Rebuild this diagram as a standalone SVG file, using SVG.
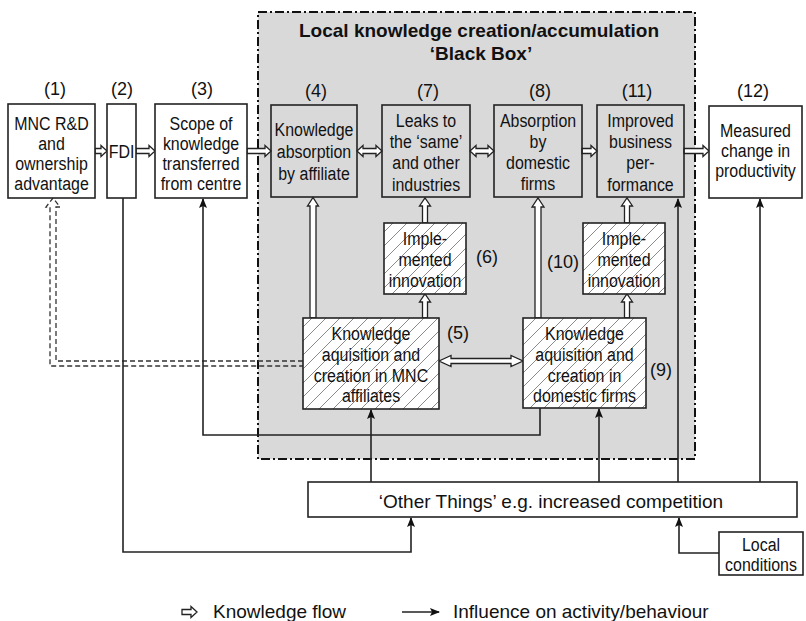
<svg xmlns="http://www.w3.org/2000/svg" width="806" height="621" viewBox="0 0 806 621">
<style>
.bx{fill:#fff;stroke:#222;stroke-width:1.6}
.gb{fill:none;stroke:#222;stroke-width:1.6}
.hb{fill:url(#hatch);stroke:#222;stroke-width:1.6}
.t{font-family:"Liberation Sans",Arial,sans-serif;font-size:19px;fill:#111;text-anchor:middle}
.l{font-family:"Liberation Sans",Arial,sans-serif;font-size:18px;fill:#111;text-anchor:middle}
.a{font-family:"Liberation Sans",Arial,sans-serif;font-size:19px;fill:#111}
.ti{font-family:"Liberation Sans",Arial,sans-serif;font-size:19px;font-weight:bold;fill:#111;text-anchor:middle}
.ho{fill:#fff;stroke:#222;stroke-width:1.3;stroke-linejoin:miter}
.ln{fill:none;stroke:#222;stroke-width:1.6}
.ds{fill:none;stroke:#333;stroke-width:1.3;stroke-dasharray:5 3}
</style>
<defs>
<pattern id="hatch" patternUnits="userSpaceOnUse" width="14" height="14">
<rect width="14" height="14" fill="#fff"/>
<path d="M0 14L14 0M-3.5 3.5L3.5 -3.5M10.5 17.5L17.5 10.5" stroke="#8a8a8a" stroke-width="1"/>
</pattern>
<marker id="ah" markerWidth="10" markerHeight="10" viewBox="0 0 10 10" refX="9" refY="5" orient="auto" markerUnits="userSpaceOnUse">
<path d="M0 1L10 5L0 9L2 5Z" fill="#111"/>
</marker>
</defs>
<rect width="806" height="621" fill="#fff"/>
<g id="blackbox">
<rect x="258" y="12" width="437" height="447" fill="#d9d9d9" stroke="#111" stroke-width="2" stroke-dasharray="9 3 2 3"/>
<text class="ti" x="479" y="37">Local knowledge creation/accumulation</text>
<text class="ti" x="481" y="60">‘Black Box’</text>
</g>
<g id="connectors">
<path class="ho" d="M95 148.5H101V145.5L107 151L101 156.5V153.5H95Z"/>
<path class="ho" d="M136 148.5H149V145.5L155 151L149 156.5V153.5H136Z"/>
<path class="ho" d="M247 148.5H265V145.5L271 151L265 156.5V153.5H247Z"/>
<path class="ho" d="M357 151L363 145.5V148.5H376V145.5L382 151L376 156.5V153.5H363V156.5Z"/>
<path class="ho" d="M470 151L476 145.5V148.5H488V145.5L494 151L488 156.5V153.5H476V156.5Z"/>
<path class="ho" d="M582 148.5H591V145.5L597 151L591 156.5V153.5H582Z"/>
<path class="ho" d="M684 148.5H703V145.5L709 151L703 156.5V153.5H684Z"/>
<path class="ho" d="M310 318V206H307.5L313 197.5L318.5 206H316V318Z"/>
<path class="ho" d="M422.5 223V206H419.5L425 198L430.5 206H427.5V223Z"/>
<path class="ho" d="M422.5 318V302H419.5L425 294L430.5 302H427.5V318Z"/>
<path class="ho" d="M535 318V207H532L538 198L544 207H541V318Z"/>
<path class="ho" d="M624.5 223V206H621.5L627 198L632.5 206H629.5V223Z"/>
<path class="ho" d="M624.5 318V302H621.5L627 294L632.5 302H629.5V318Z"/>
<path class="ho" d="M439 361L451 355.5V358.5H511V355.5L523 361L511 366.5V363.5H451V366.5Z"/>
<path class="ds" d="M303 361H56V207H60L53 198L46 207H50V366H303"/>
<path class="ln" d="M678 482V199" marker-end="url(#ah)"/>
<path class="ln" d="M760 482V199" marker-end="url(#ah)"/>
<path class="ln" d="M599 482V409" marker-end="url(#ah)"/>
<path class="ln" d="M371 482V410" marker-end="url(#ah)"/>
<path class="ln" d="M540 408V435H203V199" marker-end="url(#ah)"/>
<path class="ln" d="M123 198V552H411V518" marker-end="url(#ah)"/>
<path class="ln" d="M719 553H679V518" marker-end="url(#ah)"/>
</g>
<g id="n1">
<rect class="bx" x="8" y="104" width="87" height="94"/>
<text class="l" x="55" y="95">(1)</text>
<g transform="translate(51.5 0) scale(0.84 1)">
<text class="t" x="0" y="130">MNC R&amp;D</text>
<text class="t" x="0" y="150">and</text>
<text class="t" x="0" y="170">ownership</text>
<text class="t" x="0" y="190">advantage</text>
</g>
</g>
<g id="n2">
<rect class="bx" x="107" y="104" width="29" height="94"/>
<text class="l" x="122" y="95">(2)</text>
<g transform="translate(121.5 0) scale(0.84 1)">
<text class="t" x="0" y="158">FDI</text>
</g>
</g>
<g id="n3">
<rect class="bx" x="155" y="104" width="92" height="94"/>
<text class="l" x="202" y="95">(3)</text>
<g transform="translate(201 0) scale(0.84 1)">
<text class="t" x="0" y="130">Scope of</text>
<text class="t" x="0" y="150">knowledge</text>
<text class="t" x="0" y="170">transferred</text>
<text class="t" x="0" y="190">from centre</text>
</g>
</g>
<g id="n4">
<rect class="gb" x="271" y="105" width="86" height="92"/>
<text class="l" x="316" y="97">(4)</text>
<g transform="translate(314 0) scale(0.84 1)">
<text class="t" x="0" y="136">Knowledge</text>
<text class="t" x="0" y="158">absorption</text>
<text class="t" x="0" y="180">by affiliate</text>
</g>
</g>
<g id="n7">
<rect class="gb" x="382" y="105" width="88" height="92"/>
<text class="l" x="428" y="97">(7)</text>
<g transform="translate(426 0) scale(0.84 1)">
<text class="t" x="0" y="127">Leaks to</text>
<text class="t" x="0" y="148">the ‘same’</text>
<text class="t" x="0" y="169">and other</text>
<text class="t" x="0" y="191">industries</text>
</g>
</g>
<g id="n8">
<rect class="gb" x="494" y="105" width="88" height="92"/>
<text class="l" x="540" y="97">(8)</text>
<g transform="translate(538 0) scale(0.84 1)">
<text class="t" x="0" y="127">Absorption</text>
<text class="t" x="0" y="148">by</text>
<text class="t" x="0" y="169">domestic</text>
<text class="t" x="0" y="190">firms</text>
</g>
</g>
<g id="n11">
<rect class="gb" x="597" y="105" width="87" height="92"/>
<text class="l" x="637" y="97">(11)</text>
<g transform="translate(640.5 0) scale(0.84 1)">
<text class="t" x="0" y="127">Improved</text>
<text class="t" x="0" y="148">business</text>
<text class="t" x="0" y="169">per-</text>
<text class="t" x="0" y="191">formance</text>
</g>
</g>
<g id="n12">
<rect class="bx" x="709" y="106" width="93" height="92"/>
<text class="l" x="753" y="97">(12)</text>
<g transform="translate(755.5 0) scale(0.84 1)">
<text class="t" x="0" y="137">Measured</text>
<text class="t" x="0" y="157">change in</text>
<text class="t" x="0" y="177">productivity</text>
</g>
</g>
<g id="n6">
<rect class="hb" x="384" y="223" width="82" height="71"/>
<g transform="translate(425 0) scale(0.84 1)">
<text class="t" x="0" y="245">Imple-</text>
<text class="t" x="0" y="266">mented</text>
<text class="t" x="0" y="287">innovation</text>
</g>
<text class="l" x="487" y="263">(6)</text>
</g>
<g id="n5">
<rect class="hb" x="303" y="318" width="136" height="91"/>
<g transform="translate(371 0) scale(0.84 1)">
<text class="t" x="0" y="340">Knowledge</text>
<text class="t" x="0" y="361">aquisition and</text>
<text class="t" x="0" y="382">creation in MNC</text>
<text class="t" x="0" y="402">affiliates</text>
</g>
<text class="l" x="458" y="339">(5)</text>
</g>
<g id="n10">
<rect class="hb" x="583" y="223" width="82" height="71"/>
<g transform="translate(624 0) scale(0.84 1)">
<text class="t" x="0" y="245">Imple-</text>
<text class="t" x="0" y="266">mented</text>
<text class="t" x="0" y="287">innovation</text>
</g>
<text class="l" x="563" y="268">(10)</text>
</g>
<g id="n9">
<rect class="hb" x="523" y="318" width="123" height="90"/>
<g transform="translate(584.5 0) scale(0.84 1)">
<text class="t" x="0" y="340">Knowledge</text>
<text class="t" x="0" y="361">aquisition and</text>
<text class="t" x="0" y="382">creation in</text>
<text class="t" x="0" y="402">domestic firms</text>
</g>
<text class="l" x="661" y="376">(9)</text>
</g>
<g id="other">
<rect class="bx" x="308" y="482" width="489" height="35"/>
<text class="a" x="551" y="508" text-anchor="middle">‘Other Things’ e.g. increased competition</text>
</g>
<g id="local">
<rect class="bx" x="719" y="532" width="84" height="43"/>
<g transform="translate(761 0) scale(0.84 1)">
<text class="t" x="0" y="551">Local</text>
<text class="t" x="0" y="571">conditions</text>
</g>
</g>
<g id="legend">
<path class="ho" d="M182 609.5H191V606.5L197 612L191 617.5V614.5H182Z"/>
<text class="a" x="213" y="618" font-size="18">Knowledge flow</text>
<path class="ln" d="M402 612H439" marker-end="url(#ah)"/>
<text class="a" x="453" y="618" font-size="18">Influence on activity/behaviour</text>
</g>
</svg>
